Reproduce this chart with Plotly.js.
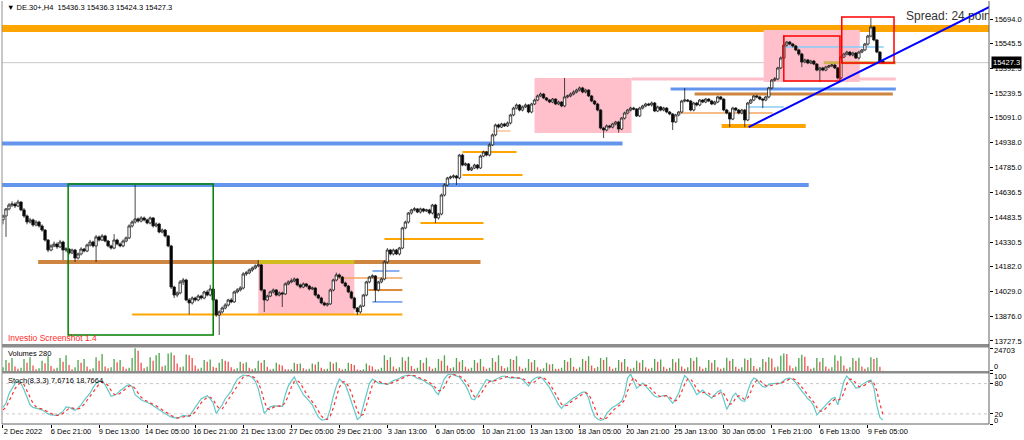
<!DOCTYPE html>
<html><head><meta charset="utf-8">
<script src="https://cdn.plot.ly/plotly-3.0.1.min.js"></script>
<style>html,body{margin:0;padding:0;background:#fff}#chart{width:1024px;height:440px}</style>
</head><body><div id="chart"></div>
<script>
const OPEN=[14467,14491,14534,14558,14564,14552,14576,14528,14491,14454,
14467,14436,14454,14430,14405,14344,14283,14308,14320,14302,
14332,14283,14289,14265,14283,14234,14259,14289,14277,14314,
14332,14308,14363,14344,14369,14338,14308,14295,14344,14320,
14308,14338,14357,14430,14454,14473,14460,14479,14467,14448,
14479,14430,14442,14393,14405,14369,14308,14057,14008,14021,
14088,14100,13978,13960,13990,13978,14002,13990,14027,14008,
14045,13978,13886,13905,13929,13947,13978,13966,14027,14039,
14051,14137,14143,14161,14173,14186,14192,14039,13978,14002,
14027,14039,14008,14021,14015,14076,14088,14094,14106,14070,
14057,14076,14063,14045,14051,14008,13990,13960,13947,13954,
14039,14100,14131,14118,14082,14063,14027,13990,13929,13905,
13941,14008,14088,14118,14125,14039,14088,14106,14210,14283,
14259,14283,14259,14295,14418,14454,14509,14528,14534,14515,
14534,14521,14528,14509,14558,14479,14503,14619,14680,14723,
14729,14735,14723,14863,14802,14809,14772,14784,14802,14784,
14857,14882,14863,14925,14986,15047,15034,15053,15041,15059,
15108,15150,15169,15138,15157,15169,15126,15175,15199,15224,
15236,15212,15199,15187,15205,15175,15187,15163,15218,15224,
15236,15248,15260,15273,15248,15260,15224,15193,15175,15138,
15028,15016,15041,15034,15053,15065,15022,15089,15120,15138,
15150,15144,15102,15150,15163,15175,15169,15181,15132,15157,
15138,15150,15126,15114,15065,15108,15126,15193,15199,15193,
15138,15181,15169,15199,15187,15205,15193,15175,15187,15218,
15205,15138,15120,15083,15150,15138,15120,15138,15077,15181,
15199,15224,15218,15205,15199,15218,15273,15321,15328,15395,
15456,15535,15553,15541,15529,15505,15480,15431,15444,15425,
15437,15419,15382,15395,15382,15401,15407,15413,15395,15334,
15462,15480,15492,15474,15486,15456,15492,15505,15541,15590,
15645,15566,15492,15436.3];
const HIGH=[14500,14540,14570,14580,14575,14590,14582,14540,14500,14480,
14475,14465,14462,14440,14412,14350,14318,14335,14330,14345,
14340,14300,14295,14292,14290,14268,14300,14296,14322,14345,
14340,14375,14372,14380,14376,14345,14316,14380,14352,14330,
14348,14366,14440,14465,14680,14482,14490,14488,14475,14488,
14485,14452,14450,14415,14412,14375,14315,14065,14030,14100,
14112,14108,13990,14000,13998,14012,14010,14035,14040,14070,
14052,13985,13915,13938,13958,13985,13990,14035,14050,14062,
14148,14155,14170,14182,14195,14222,14198,14045,14010,14035,
14048,14045,14030,14028,14085,14098,14110,14115,14112,14078,
14085,14082,14070,14060,14058,14015,13998,13968,13962,14048,
14108,14145,14140,14125,14090,14070,14035,13998,13935,13950,
14015,14095,14125,14135,14130,14095,14115,14220,14295,14290,
14292,14290,14302,14425,14462,14515,14535,14545,14540,14542,
14540,14535,14535,14565,14565,14510,14628,14690,14730,14738,
14745,14742,14870,14872,14818,14815,14792,14810,14808,14865,
14890,14888,14935,14995,15055,15055,15060,15060,15068,15115,
15158,15178,15175,15165,15178,15175,15182,15208,15232,15245,
15242,15218,15205,15212,15210,15195,15192,15334,15232,15245,
15258,15268,15282,15280,15268,15265,15230,15200,15182,15145,
15035,15050,15048,15060,15072,15072,15095,15128,15145,15158,
15158,15150,15158,15170,15182,15182,15190,15188,15165,15163,
15158,15156,15132,15120,15115,15132,15200,15273,15205,15200,
15188,15188,15206,15205,15212,15210,15200,15195,15225,15224,
15210,15145,15128,15158,15156,15145,15145,15145,15188,15206,
15230,15232,15225,15212,15225,15280,15328,15340,15402,15465,
15596,15560,15560,15548,15536,15512,15488,15452,15450,15445,
15444,15425,15402,15402,15408,15414,15420,15420,15402,15470,
15488,15500,15498,15494,15493,15500,15512,15548,15598,15700,
15652,15572,15498,15436.3];
const LOW=[14440,14363,14525,14545,14540,14545,14520,14480,14440,14445,
14425,14428,14420,14395,14335,14270,14275,14300,14290,14295,
14222,14270,14255,14258,14210,14225,14250,14268,14270,14305,
14298,14210,14335,14338,14330,14300,14286,14288,14312,14300,
14300,14330,14350,14420,14445,14450,14452,14458,14440,14440,
14420,14422,14385,14385,14360,14300,14045,13990,13995,14012,
14070,13970,13890,13950,13968,13970,13980,13982,14000,14000,
13970,13875,13764,13895,13920,13938,13958,13960,14018,14030,
14042,14125,14135,14150,14165,14178,14030,13905,13970,13995,
14018,14000,14000,13935,14008,14068,14080,14086,14062,14048,
14050,14055,14036,14038,14000,13982,13952,13940,13938,13948,
14030,14092,14110,14075,14055,14020,13982,13920,13886,13895,
13935,14000,14080,14110,13966,14030,14080,14098,14200,14250,
14250,14252,14250,14288,14410,14445,14500,14520,14508,14506,
14512,14515,14500,14500,14448,14470,14495,14610,14672,14715,
14720,14680,14715,14795,14795,14765,14765,14778,14775,14778,
14850,14855,14855,14918,14978,15025,15028,15035,15035,15050,
15100,15142,15130,15130,15150,15118,15118,15168,15192,15218,
15205,15192,15180,15180,15168,15168,15155,15155,15210,15216,
15228,15240,15252,15240,15240,15218,15186,15168,15130,15020,
14967,15008,15025,15026,15045,15000,15015,15080,15112,15130,
15136,15095,15095,15142,15155,15162,15160,15125,15125,15130,
15130,15118,15106,15016,15058,15100,15118,15185,15186,15130,
15130,15160,15162,15180,15180,15186,15168,15168,15180,15198,
15130,15112,15034,15076,15130,15112,15112,15034,15070,15175,
15192,15210,15198,15150,15192,15210,15265,15312,15320,15388,
15448,15525,15532,15520,15498,15470,15400,15424,15418,15418,
15412,15375,15309,15375,15375,15394,15400,15388,15325,15328,
15455,15472,15466,15466,15450,15448,15485,15498,15532,15582,
15558,15485,15430,15424.3];
const CLOSE=[14491,14534,14558,14564,14552,14576,14528,14491,14454,14467,
14436,14454,14430,14405,14344,14283,14308,14320,14302,14332,
14283,14289,14265,14283,14234,14259,14289,14277,14314,14332,
14308,14363,14344,14369,14338,14308,14295,14344,14320,14308,
14338,14357,14430,14454,14473,14460,14479,14467,14448,14479,
14430,14442,14393,14405,14369,14308,14057,14008,14021,14088,
14100,13978,13960,13990,13978,14002,13990,14027,14008,14045,
13978,13886,13905,13929,13947,13978,13966,14027,14039,14051,
14137,14143,14161,14173,14186,14192,14039,13978,14002,14027,
14039,14008,14021,14015,14076,14088,14094,14106,14070,14057,
14076,14063,14045,14051,14008,13990,13960,13947,13954,14039,
14100,14131,14118,14082,14063,14027,13990,13929,13905,13941,
14008,14088,14118,14125,14039,14088,14106,14210,14283,14259,
14283,14259,14295,14418,14454,14509,14528,14534,14515,14534,
14521,14528,14509,14558,14479,14503,14619,14680,14723,14729,
14735,14723,14863,14802,14809,14772,14784,14802,14784,14857,
14882,14863,14925,14986,15047,15034,15053,15041,15059,15108,
15150,15169,15138,15157,15169,15126,15175,15199,15224,15236,
15212,15199,15187,15205,15175,15187,15163,15218,15224,15236,
15248,15260,15273,15248,15260,15224,15193,15175,15138,15028,
15016,15041,15034,15053,15065,15022,15089,15120,15138,15150,
15144,15102,15150,15163,15175,15169,15181,15132,15157,15138,
15150,15126,15114,15065,15108,15126,15193,15199,15193,15138,
15181,15169,15199,15187,15205,15193,15175,15187,15218,15205,
15138,15120,15083,15150,15138,15120,15138,15077,15181,15199,
15224,15218,15205,15199,15218,15273,15321,15328,15395,15456,
15535,15553,15541,15529,15505,15480,15431,15444,15425,15437,
15419,15382,15395,15382,15401,15407,15413,15395,15334,15462,
15480,15492,15474,15486,15456,15492,15505,15541,15590,15645,
15566,15492,15436,15427.3];
const VOLUME=[4000,12000,9000,14000,5000,
2500,3500,13000,9000,15000,6000,
2000,3000,11000,8500,16000,5500,
2500,3500,14000,10000,17000,6500,
2000,4000,12000,9000,13000,5000,
2000,3000,15000,11000,18500,5000,
3000,4000,13000,9500,12000,4500,
2500,3500,14000,24703,22000,9000,
3000,4500,15000,11000,17000,19500,
5000,6000,19000,20000,17000,8000,
4000,5000,18000,17000,14000,6000,
2500,3500,12000,10000,12500,4500,
3500,9000,13000,11000,10000,4000,
2000,3000,10000,8000,9500,3500,
2000,3000,11000,9000,12000,4500,
1500,2500,9000,7000,6000,2000,
1500,2000,9000,7500,8000,3000,
1500,2500,8000,7000,10000,3500,
2000,2500,10000,8000,9500,3000,
1500,2500,9000,7500,6500,1500,
1000,2000,8000,6000,5000,1500,
2000,3500,17000,12000,15000,5000,
2500,4000,15000,11000,15500,5500,
2500,3500,12000,9000,14500,5000,
2500,3500,13000,11000,17000,6000,
3000,4000,14000,10000,12000,4500,
2500,3500,12000,9000,13000,5000,
2500,3500,14000,10000,17000,5500,
3000,4000,13000,12000,16000,5000,
2500,3500,13000,9500,12000,4000,
2000,3000,9000,7000,7500,2500,
2500,3500,12000,10000,14000,4500,
2500,4000,13000,11000,16000,6000,
3000,4500,14000,12000,15000,5000,
2500,3500,12000,9500,13000,4500,
2500,3500,11000,9000,12000,4000,
2500,3500,13000,10000,12500,4500,
2500,3500,13000,9500,13500,5000,
2500,4000,14000,11000,15000,5000,
2500,3500,12000,9000,12000,4000,
2500,3500,14500,11000,13000,4500,
2500,4000,13500,12000,14000,5500,
2500,4000,13000,10000,15000,13500,
4000,5000,16500,19000,18500,6000,
3000,4500,14000,17500,15500,5500,
2500,3500,14000,10000,14000,5000,
2500,4000,17000,11000,16000,6000,
2500,4000,14000,11000,14500,5000,
2500,4000,15000,13000,14500,4500,
280];
const STOCH_MAIN=[33,41,60,70,80,85,80,68,52,38,
33,31,30,28,24,20,18,17,17,21,
25,34,33,30,27,32,38,47,55,61,
72,81,84,85,78,65,55,57,60,66,
71,75,78,74,58,52,48,45,43,40,
36,32,28,24,20,17,14,12,11,14,
17,16,15,24,33,42,50,53,56,50,
41,21,30,38,50,58,65,78,88,93,
97,96,95,92,85,70,45,21,28,34,
36,36,35,35,58,75,85,93,80,70,
58,52,45,38,25,14,8,8,11,30,
55,75,89,84,78,62,45,25,9,14,
35,61,80,89,85,81,80,80,78,82,
86,88,90,94,96,97,96,94,90,89,
86,82,78,75,64,58,75,90,97,99,
97,95,93,85,77,65,50,48,58,68,
78,88,86,84,88,91,94,95,93,91,
92,91,91,88,82,75,85,90,93,93,
88,81,72,61,48,38,31,38,42,48,
52,55,60,63,63,51,30,15,10,7,
9,21,27,33,36,40,45,60,91,99,
85,71,76,81,75,68,62,55,53,55,
56,56,48,41,50,61,80,96,90,81,
70,58,62,67,60,55,51,58,64,67,
48,29,40,55,61,52,46,45,65,82,
91,88,80,74,73,78,80,80,81,81,
86,90,91,88,82,73,65,58,50,45,
35,18,25,33,38,44,50,53,38,60,
84,95,88,80,71,72,78,82,85,87,
72,36,13,7.6716];
const STOCH_SIGNAL=[28,33,45,57,70,78,82,78,67,53,
41,34,31,30,27,24,21,18,17,18,
21,27,31,32,30,30,32,39,47,54,
63,71,79,83,82,76,66,59,57,61,
66,71,75,76,70,61,53,48,45,43,
40,36,32,28,24,20,17,14,12,12,
14,16,16,18,24,33,42,48,53,53,
49,37,31,30,39,49,58,67,77,86,
93,95,96,94,91,82,67,45,31,28,
33,35,36,35,43,56,73,84,86,81,
69,60,52,45,36,26,16,10,9,16,
32,53,73,83,84,75,62,44,26,16,
19,37,59,77,85,85,82,80,79,80,
82,85,88,91,93,96,96,96,93,91,
88,86,82,78,72,66,66,74,87,95,
98,97,95,91,85,76,64,54,52,58,
68,78,84,86,86,88,91,93,94,93,
92,91,91,90,87,82,81,83,89,92,
91,87,80,71,60,49,39,36,37,43,
47,52,56,59,62,59,48,32,18,11,
9,12,19,27,32,36,40,48,65,83,
92,85,77,76,77,75,68,62,57,54,
55,56,53,48,46,51,64,79,89,89,
80,70,63,62,63,61,55,55,58,63,
60,48,39,41,52,56,53,48,52,64,
79,87,86,81,76,75,77,79,80,81,
83,86,89,90,87,81,73,65,58,51,
43,33,26,25,32,38,44,49,47,50,
61,80,89,88,80,74,74,77,82,85,
81,65,40,18.7664];
const X_TICK_BARS=[0,16,32,48,64,80,96,112,128,144,160,176,192,208,224,240,256,272,288];
const X_TICK_LABELS=['2 Dec 2022','6 Dec 21:00','9 Dec 13:00','14 Dec 05:00','16 Dec 21:00','21 Dec 13:00','27 Dec 05:00','29 Dec 21:00','3 Jan 13:00','6 Jan 05:00','10 Jan 21:00','13 Jan 13:00','18 Jan 05:00','20 Jan 21:00','25 Jan 13:00','30 Jan 05:00','1 Feb 21:00','6 Feb 13:00','9 Feb 05:00'];
const PRICE_TICKS=[15694.0,15545.5,15392.5,15239.5,15091.0,14938.0,14785.0,14636.5,14483.5,14330.5,14182.0,14029.0,13876.0,13727.5];
const VOLUME_TICKS=[0,24703];
const STOCH_TICKS=[0,20,80,100];
const LAST_PRICE=15427.3;

const X = CLOSE.map((_, i) => i);
const volColors = VOLUME.map((v, i) => (i === 0 || v > VOLUME[i-1]) ? '#52a852' : '#f25454');
const FONT = 'Tahoma, "Liberation Sans", Arial, sans-serif';

const traces = [
  {type:'candlestick', x:X, open:OPEN, high:HIGH, low:LOW, close:CLOSE, xaxis:'x', yaxis:'y',
   increasing:{line:{color:'#1a1a1a',width:0.8}, fillcolor:'#ffffff'},
   decreasing:{line:{color:'#1a1a1a',width:0.8}, fillcolor:'#000000'},
   hoverinfo:'none'},
  {type:'bar', x:X, y:VOLUME, xaxis:'x', yaxis:'y2', width:0.45, marker:{color:volColors, line:{width:0}}, hoverinfo:'none'},
  {type:'scatter', mode:'lines', x:X, y:STOCH_MAIN, xaxis:'x', yaxis:'y3', line:{color:'#62c9c9', width:1.2}, hoverinfo:'none'},
  {type:'scatter', mode:'lines', x:X, y:STOCH_SIGNAL, xaxis:'x', yaxis:'y3', line:{color:'#ff3030', width:1.2, dash:'dot'}, hoverinfo:'none'},
  {type:'scatter', mode:'text', x:[300.7], y:[15706], text:['Spread: 24 points'], textposition:'middle right',
   textfont:{family:FONT, size:12, color:'#333333'}, cliponaxis:true, xaxis:'x', yaxis:'y', hoverinfo:'none'}
];

function hl(x0, x1, y, color, w, layer) {
  return {type:'line', xref:'x', yref:'y', x0:x0, x1:x1, y0:y, y1:y, line:{color:color, width:w}, layer:layer || 'below'};
}
function box(x0, x1, y0, y1, fill, lineColor, w, layer) {
  return {type:'rect', xref:'x', yref:'y', x0:x0, x1:x1, y0:y0, y1:y1,
    fillcolor:fill || 'rgba(0,0,0,0)', line:{color:lineColor || 'rgba(0,0,0,0)', width:w || 0}, layer:layer || 'below'};
}
function pband(y0, y1, color) {
  return {type:'rect', xref:'paper', yref:'paper', x0:0, x1:1, y0:y0, y1:y1, fillcolor:color, line:{width:0}, layer:'above'};
}

const shapes = [
  box(85, 117, 13886, 14210, '#ffc0cb'),
  box(177, 209.3, 14998, 15334, '#ffc0cb'),
  box(253.3, 285.3, 15309, 15627, '#ffc0cb'),
  {type:'line', xref:'paper', yref:'y', x0:0, x1:1, y0:15636, y1:15636, line:{color:'#ffa500', width:7}, layer:'below'},
  {type:'line', xref:'paper', yref:'y', x0:0, x1:1, y0:LAST_PRICE, y1:LAST_PRICE, line:{color:'#c8c8c8', width:1}, layer:'below'},
  hl(-1, 206.3, 14934, '#6495ed', 4),
  hl(-1, 268.3, 14680, '#6495ed', 4),
  hl(11.7, 159, 14210, '#cd853f', 4),
  hl(85, 117, 14210, '#d2bb1e', 4),
  hl(43, 133, 13889, '#ffa500', 2),
  hl(123, 132, 14155, '#6495ed', 1.5),
  hl(110.7, 133, 14112, '#f4a460', 1.5),
  hl(121.7, 133, 14039, '#e08a3c', 2),
  hl(123, 133, 13966, '#6495ed', 1.5),
  hl(127, 160, 14350, '#ffa500', 2),
  hl(139, 160, 14448, '#ffa500', 2),
  hl(153, 173, 14741, '#ffa500', 2),
  hl(153, 171, 14882, '#ffa500', 2),
  hl(163, 169, 15010, '#f4a460', 1),
  hl(209.3, 297.3, 15328, '#ffc0cb', 3),
  hl(222.3, 297.3, 15266, '#6495ed', 3),
  hl(230.3, 296.3, 15236, '#cd853f', 3),
  hl(225.7, 256.3, 15120, '#f4a460', 1.5),
  hl(247.3, 260, 15157, '#87cefa', 1.5),
  hl(239.3, 267.3, 15041, '#ffa500', 4),
  hl(260, 293.3, 15523, '#87cefa', 1.5),
  hl(273.3, 297.3, 15427, '#cdb050', 3),
  box(21.7, 70, 13764, 14686, null, '#008000', 1.5, 'above'),
  box(260, 278.7, 15315, 15590, null, '#ff0000', 1.5, 'above'),
  box(279.3, 296.7, 15425, 15706, null, '#ff0000', 1.5, 'above'),
  {type:'line', xref:'x', yref:'y', x0:248.3, y0:15034, x1:340, y1:15873, line:{color:'#0000ff', width:2}, layer:'above'},
  {type:'line', xref:'x', yref:'y3', x0:-1, x1:330, y0:80, y1:80, line:{color:'#c8c8c8', width:1, dash:'dot'}, layer:'below'},
  {type:'line', xref:'x', yref:'y3', x0:-1, x1:330, y0:20, y1:20, line:{color:'#c8c8c8', width:1, dash:'dot'}, layer:'below'},
  pband(0.1809, 0.1891, '#8c8c8c'),
  pband(0.1194, 0.1253, '#8c8c8c'),
  {type:'line', xref:'paper', yref:'paper', x0:0, x1:0, y0:0, y1:1, line:{color:'#909090', width:1}, layer:'above'},
  {type:'line', xref:'paper', yref:'paper', x0:1, x1:1, y0:0, y1:1, line:{color:'#606060', width:1}, layer:'above'},
  {type:'line', xref:'paper', yref:'paper', x0:0, x1:1, y0:0, y1:0, line:{color:'#606060', width:1}, layer:'above'}
];

const small = {family:FONT, size:7.5, color:'#000'};
function sideLabel(text, yPaper) {
  return {xref:'paper', yref:'paper', x:1, xshift:3, y:yPaper, xanchor:'left', yanchor:'middle', showarrow:false, text:text, font:small};
}
const annotations = [
  {xref:'paper', yref:'paper', x:0.003, y:0.9835, xanchor:'left', yanchor:'middle', showarrow:false,
   text:'\u25BC DE.30+,H4  15436.3 15436.3 15424.3 15427.3', font:small},
  {xref:'paper', yref:'paper', x:0.004, y:0.2033, xanchor:'left', yanchor:'middle', showarrow:false,
   text:'Investio Screenshot 1.4', font:{family:FONT, size:8.5, color:'#ff2a2a'}},
  {xref:'paper', yref:'paper', x:0.004, y:0.1678, xanchor:'left', yanchor:'middle', showarrow:false,
   text:'Volumes 280', font:small},
  {xref:'paper', yref:'paper', x:0.004, y:0.1017, xanchor:'left', yanchor:'middle', showarrow:false,
   text:'Stoch(8,3,3) 7.6716 18.7664', font:small},
  sideLabel(String(VOLUME_TICKS[1]), 0.1749),
  sideLabel(String(VOLUME_TICKS[0]), 0.1371),
  sideLabel(String(STOCH_TICKS[3]), 0.1130),
  sideLabel(String(STOCH_TICKS[0]), 0.0085),
  {xref:'paper', yref:'y', x:1, xshift:2, y:LAST_PRICE, xanchor:'left', yanchor:'middle', showarrow:false,
   text:LAST_PRICE.toFixed(1), bgcolor:'#000', borderpad:1, font:{family:FONT, size:7.5, color:'#fff'}}
];

const axY = {showgrid:false, zeroline:false, side:'right', ticks:'outside', ticklen:3, tickcolor:'#000',
  tickfont:small, showline:false, anchor:'x', fixedrange:true};

const layout = {
  width:1024, height:440, margin:{l:2, r:35, t:1, b:16},
  paper_bgcolor:'#fff', plot_bgcolor:'#fff', showlegend:false, hovermode:false, dragmode:false,
  boxgap:0.15, boxgroupgap:0.05,
  font:{family:FONT, size:7.5, color:'#000'},
  xaxis:{domain:[0,1], range:[-0.33, 328.33], anchor:'y3', tickvals:X_TICK_BARS, ticktext:X_TICK_LABELS,
    ticks:'outside', ticklen:3, tickcolor:'#000', tickfont:small, ticklabelshift:20, ticklabelstandoff:-3,
    showgrid:false, zeroline:false, showline:false, rangeslider:{visible:false}, fixedrange:true},
  yaxis:Object.assign({}, axY, {domain:[0.1891, 1], range:[13709, 15804], tickvals:PRICE_TICKS, ticktext:PRICE_TICKS.map(v => v.toFixed(1))}),
  yaxis2:Object.assign({}, axY, {domain:[0.1253, 0.1809], range:[0, 25500], tickvals:VOLUME_TICKS, showticklabels:false}),
  yaxis3:Object.assign({}, axY, {domain:[0, 0.1194], range:[0, 100], tickvals:STOCH_TICKS, ticktext:['','20','80','']}),
  shapes:shapes, annotations:annotations
};

Plotly.newPlot('chart', traces, layout, {staticPlot:true, displayModeBar:false});
</script>
</body></html>
